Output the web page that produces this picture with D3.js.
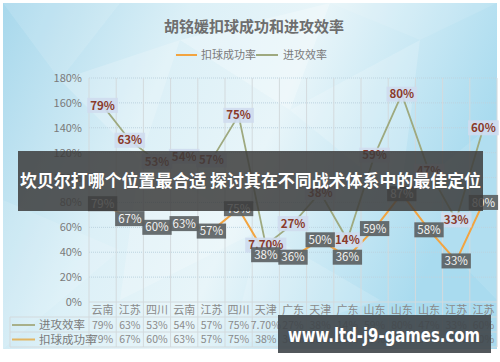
<!DOCTYPE html>
<html><head><meta charset="utf-8">
<script src="https://cdn.jsdelivr.net/npm/d3@7/dist/d3.min.js"></script>
<style>html,body{margin:0;padding:0;background:#fff}svg{display:block}</style>
</head><body><svg id="c" width="500" height="362"></svg>
<script>
const categories = ["云南","江苏","四川","云南","江苏","四川","天津","广东","天津","广东","山东","山东","山东","江苏","江苏"];
const attackEff = [0.79,0.63,0.53,0.54,0.57,0.75,0.077,0.27,0.38,0.14,0.59,0.80,0.47,0.33,0.60];
const attackEffLabels = ["79%","63%","53%","54%","57%","75%","7.70%","27%","38%","14%","59%","80%","47%","33%","60%"];
const spikeRate = [0.79,0.67,0.60,0.63,0.57,0.75,0.38,0.36,0.50,0.36,0.59,0.87,0.58,0.33,0.80];
const spikeRateLabels = ["79%","67%","60%","63%","57%","75%","38%","36%","50%","36%","59%","87%","58%","33%","80%"];
const yTicks = [0,0.2,0.4,0.6,0.8,1.0,1.2,1.4,1.6,1.8];
const seriesNames = ["扣球成功率","进攻效率"];
const title = "胡铭媛扣球成功和进攻效率";
const bannerText = "坎贝尔打哪个位置最合适 探讨其在不同战术体系中的最佳定位";
const watermark = "www.ltd-j9-games.com";

const svg = d3.select("#c");
const font = "'Noto Sans CJK SC','Noto Sans',sans-serif";
const cOrange = "#f2a440", cGreen = "#9ea97f";

// background
const defs = svg.append("defs");
const g1 = defs.append("linearGradient").attr("id","bg").attr("x1","0").attr("y1","0").attr("x2","1").attr("y2","0.3");
g1.append("stop").attr("offset","0").attr("stop-color","#a8d8ec");
g1.append("stop").attr("offset","0.35").attr("stop-color","#dcf0f7");
g1.append("stop").attr("offset","0.6").attr("stop-color","#e8f5f9");
g1.append("stop").attr("offset","1").attr("stop-color","#a9dbef");
svg.append("rect").attr("x",3).attr("y",3).attr("width",494).attr("height",346).attr("fill","url(#bg)");
const polys = [
  [[3,3],[120,3],[60,80]],[[60,80],[180,40],[140,160]],[[180,40],[330,3],[290,110]],
  [[290,110],[420,40],[400,200]],[[400,200],[497,120],[497,300]],[[3,200],[120,250],[3,349]],
  [[140,160],[260,230],[120,300]],[[260,230],[380,300],[230,349]],[[330,3],[497,3],[420,40]]
];
svg.append("g").selectAll("polygon").data(polys).join("polygon")
  .attr("points",d=>d.map(p=>p.join(",")).join(" "))
  .attr("fill","#ffffff").attr("opacity",(d,i)=>[0.12,0.2,0.25,0.18,0.1,0.12,0.2,0.15,0.1][i]);

const x = d3.scaleBand().domain(d3.range(categories.length)).range([89,497]);
const y = d3.scaleLinear().domain([0,1.8]).range([302,78]);
const cx = i => x(i) + x.bandwidth()/2;

// horizontal gridlines
svg.append("g").selectAll("line").data(yTicks.slice(1)).join("line")
  .attr("x1",89).attr("x2",497).attr("y1",d=>y(d)).attr("y2",d=>y(d))
  .attr("stroke","#bcd3df").attr("stroke-width",1).attr("stroke-dasharray","1,1");
// vertical lines through plot and table
svg.append("g").selectAll("line").data(d3.range(categories.length+1)).join("line")
  .attr("x1",i=>i<categories.length? x(i):497).attr("x2",i=>i<categories.length? x(i):497)
  .attr("y1",78).attr("y2",347).attr("stroke","#d3dadd").attr("stroke-width",1);
// table horizontal lines
[[89,302],[10,317],[10,332],[10,347]].forEach(([x0,yy])=>{
  svg.append("line").attr("x1",x0).attr("x2",497).attr("y1",yy).attr("y2",yy).attr("stroke","#d3dadd");
});
svg.append("line").attr("x1",10).attr("x2",10).attr("y1",317).attr("y2",347).attr("stroke","#d3dadd");

// y axis
const yAxis = d3.axisLeft(y).tickValues(yTicks).tickFormat(d3.format(".0%")).tickSize(0).tickPadding(7);
const ya = svg.append("g").attr("transform","translate(89,0)").call(yAxis);
ya.select(".domain").remove();
ya.selectAll("text").attr("font-family",font).attr("font-size",11).attr("fill","#7a7a7a");

// table text
svg.append("g").selectAll("text").data(categories).join("text")
  .attr("x",(d,i)=>cx(i)).attr("y",310).attr("dy","0.35em").attr("text-anchor","middle")
  .attr("font-family",font).attr("font-size",11).attr("fill","#8a8a8a").text(d=>d);
svg.append("g").selectAll("text").data(attackEffLabels).join("text")
  .attr("x",(d,i)=>cx(i)).attr("y",325).attr("dy","0.35em").attr("text-anchor","middle")
  .attr("font-family",font).attr("font-size",10.5).attr("fill","#8a8a8a").text(d=>d);
svg.append("g").selectAll("text").data(spikeRateLabels).join("text")
  .attr("x",(d,i)=>cx(i)).attr("y",339.5).attr("dy","0.35em").attr("text-anchor","middle")
  .attr("font-family",font).attr("font-size",10.5).attr("fill","#8a8a8a").text(d=>d);
[[seriesNames[1],325,"#a8b08a"],[seriesNames[0],339.5,"#e2b663"]].forEach(([t,yy,c])=>{
  svg.append("line").attr("x1",12).attr("x2",35).attr("y1",yy).attr("y2",yy).attr("stroke",c).attr("stroke-width",2);
  svg.append("text").attr("x",39).attr("y",yy).attr("dy","0.35em").attr("font-family",font)
    .attr("font-size",11.5).attr("fill","#7a7a7a").text(t);
});

// lines (stacked)
const stacked = attackEff.map((v,i)=>v+spikeRate[i]);
const line = d3.line().x((d,i)=>cx(i)).y(d=>y(d));
svg.append("path").datum(spikeRate).attr("d",line).attr("fill","none").attr("stroke",cOrange).attr("stroke-width",2);
svg.append("path").datum(stacked).attr("d",line).attr("fill","none").attr("stroke",cGreen).attr("stroke-width",1.8);

// labels
function labels(vals, texts, boxFill, boxOp, txtFill, weight){
  const g = svg.append("g");
  texts.forEach((t,i)=>{
    const gg = g.append("g").attr("transform",`translate(${cx(i)},${y(vals[i])})`);
    const r = gg.append("rect");
    const tx = gg.append("text").attr("text-anchor","middle").attr("dy","0.36em")
      .attr("font-family",font).attr("font-size",11.5).attr("font-weight",weight).attr("fill",txtFill).text(t);
    const w = tx.node().getComputedTextLength()+6;
    r.attr("x",-w/2).attr("y",-7.5).attr("width",w).attr("height",15).attr("fill",boxFill).attr("opacity",boxOp);
  });
}
labels(stacked, attackEffLabels, "#cfdcee", 0.9, "#8a3a2a", "bold");
labels(spikeRate, spikeRateLabels, "#5c6264", 0.92, "#f2f2f2", "normal");

// title & legend
svg.append("text").attr("x",254).attr("y",27).attr("dy","0.35em").attr("text-anchor","middle")
  .attr("font-family",font).attr("font-size",15).attr("font-weight","bold").attr("fill","#6e6e6e").text(title);
[[176,197,201,cOrange,seriesNames[0]],[256,278,283,cGreen,seriesNames[1]]].forEach(([a,b,tx,c,t])=>{
  svg.append("line").attr("x1",a).attr("x2",b).attr("y1",55).attr("y2",55).attr("stroke",c).attr("stroke-width",2);
  svg.append("text").attr("x",tx).attr("y",55).attr("dy","0.35em").attr("font-family",font)
    .attr("font-size",11).attr("fill","#7a7a7a").text(t);
});

// overlay banner
svg.append("rect").attr("x",18).attr("y",151).attr("width",465).attr("height",60).attr("fill","#3c3c3c").attr("opacity",0.85);
svg.append("text").attr("x",250.5).attr("y",181).attr("dy","0.35em").attr("text-anchor","middle")
  .attr("font-family",font).attr("font-size",17).attr("font-weight","bold").attr("fill","#ffffff")
  .attr("textLength",461).attr("lengthAdjust","spacingAndGlyphs").text(bannerText);
// watermark
svg.append("rect").attr("x",278).attr("y",315).attr("width",213).attr("height",38).attr("fill","#3f4549").attr("opacity",0.9);
svg.append("text").attr("x",384).attr("y",335).attr("dy","0.35em").attr("text-anchor","middle")
  .attr("font-family","'DejaVu Sans',sans-serif").attr("font-size",19).attr("font-weight","bold").attr("fill","#ffffff")
  .attr("textLength",192).attr("lengthAdjust","spacingAndGlyphs").text(watermark);
</script></body></html>
